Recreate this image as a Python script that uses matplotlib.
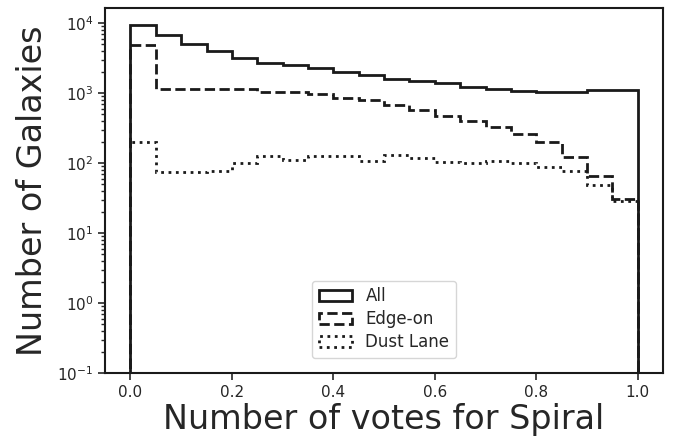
import matplotlib
matplotlib.use('Agg')
import matplotlib.pyplot as plt
import numpy as np

# bin edges for the vote fraction (20 bins of 0.05)
edges = np.linspace(0.0, 1.0, 21)

# counts per bin
all_counts = [9300, 6800, 5050, 3980, 3160, 2730, 2510, 2250, 2010, 1820,
              1590, 1480, 1390, 1230, 1140, 1090, 1030, 1050, 1120, 1100]
edge_on_counts = [4900, 1140, 1140, 1160, 1140, 1050, 1050, 980, 857, 802,
                  674, 577, 474, 402, 327, 262, 200, 123, 66, 30.5]
dust_lane_counts = [201, 74, 74, 78, 99, 127, 111, 127, 127, 109,
                    131, 118, 103, 100, 109, 100, 89, 76, 49, 29]

labels = ['All', 'Edge-on', 'Dust Lane']
styles = ['solid', 'dashed', 'dotted']

plt.rcParams['text.color'] = '.15'
plt.rcParams['axes.labelcolor'] = '.15'
plt.rcParams['xtick.color'] = '.15'
plt.rcParams['ytick.color'] = '.15'
plt.rcParams['axes.edgecolor'] = '.1'

fig, ax = plt.subplots(figsize=(6.78, 4.41), dpi=100)
fig.subplots_adjust(left=0.155, right=0.978, top=0.982, bottom=0.154)

centers = 0.5 * (edges[:-1] + edges[1:])
for counts, lab, ls in zip([all_counts, edge_on_counts, dust_lane_counts], labels, styles):
    ax.hist(centers, bins=edges, weights=counts, histtype='step', color='#1a1a1a',
            linewidth=2, linestyle=ls, label=lab, log=True)

ax.set_yscale('log')
ax.set_ylim(0.1, 1.65e4)
ax.set_xlim(-0.05, 1.05)
for s in ax.spines.values():
    s.set_linewidth(1.5)
ax.tick_params(axis='both', which='major', labelsize=11, width=1.2, length=5)
ax.tick_params(axis='both', which='minor', width=1, length=3)

ax.set_xlabel('Number of votes for Spiral', fontsize=24, labelpad=2)
ax.set_ylabel('Number of Galaxies', fontsize=24, labelpad=6)
ax.legend(loc='lower center', fontsize=12, borderaxespad=0.9, labelspacing=0.3)

fig.savefig('out.png', dpi=100)
